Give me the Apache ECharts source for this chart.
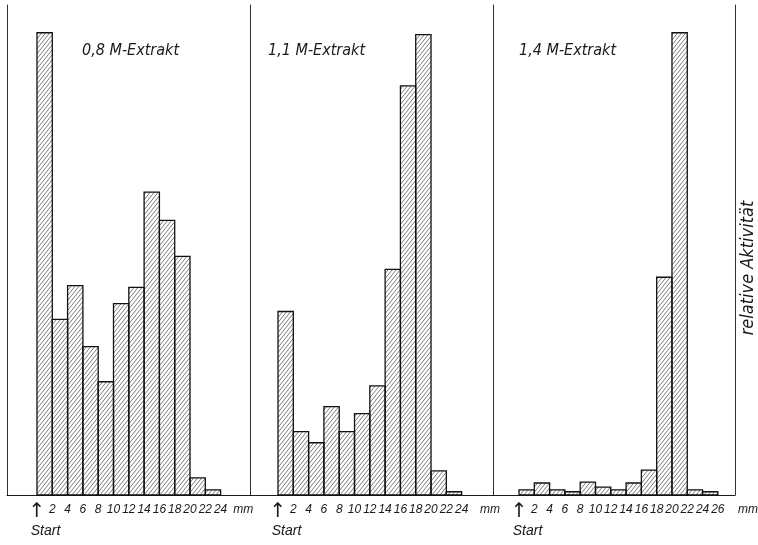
<!DOCTYPE html>
<html>
<head>
<meta charset="utf-8">
<script src="https://cdn.jsdelivr.net/npm/echarts@6/dist/echarts.min.js"></script>
<style>html,body{margin:0;padding:0;background:#fff}#c{width:758px;height:545px}</style>
</head>
<body>
<div id="c"></div>
<script>
// ---- data (relative activity, tallest bar = 100), bins of 2 mm from Start ----
const binWidthMm = 2;
const titles = ['0,8 M-Extrakt', '1,1 M-Extrakt', '1,4 M-Extrakt'];
const values08 = [100, 38, 45.3, 32.1, 24.5, 41.4, 44.9, 65.5, 59.4, 51.6, 3.7, 1.1];
const values11 = [39.7, 13.7, 11.3, 19.1, 13.7, 17.6, 23.6, 48.8, 88.5, 99.6, 5.2, 0.7];
const values14 = [1.1, 2.6, 1.1, 0.7, 2.8, 1.7, 1.1, 2.6, 5.4, 47.1, 100, 1.1, 0.7];
const ticks08 = [2, 4, 6, 8, 10, 12, 14, 16, 18, 20, 22, 24];
const ticks11 = [2, 4, 6, 8, 10, 12, 14, 16, 18, 20, 22, 24];
const ticks14 = [2, 4, 6, 8, 10, 12, 14, 16, 18, 20, 22, 24, 26];
const unitLabel = 'mm';
const startLabel = 'Start';
const yName = 'relative Aktivität';

const FONT = "'Liberation Sans', sans-serif";
const TFONT = "'DejaVu Sans Condensed', 'DejaVu Sans', sans-serif";
const INK = '#1a1a1a';

// hatch pattern
function makeHatch() {
  const w = 4, h = 5;
  const c = document.createElement('canvas');
  c.width = w; c.height = h;
  const g = c.getContext('2d');
  g.strokeStyle = '#444';
  g.lineWidth = 0.7;
  g.beginPath();
  g.moveTo(-w, 2 * h); g.lineTo(2 * w, -h);
  g.moveTo(-2 * w, 2 * h); g.lineTo(w, -h);
  g.moveTo(0, 2 * h); g.lineTo(3 * w, -h);
  g.stroke();
  return { image: c, repeat: 'repeat' };
}
const hatch = makeHatch();

const panels = [
  { vals: values08, ticks: ticks08, mmGap: -25, left: 7, width: 243, min: -3.92, max: 27.84 },
  { vals: values11, ticks: ticks11, mmGap: -13, left: 250, width: 243, min: -3.66, max: 28.1 },
  { vals: values14, ticks: ticks14, mmGap: 3, left: 493, width: 242, min: -3.40, max: 28.24 }
];

const labelStyle = { color: INK, fontFamily: FONT, fontStyle: 'italic', fontSize: 12 };
const grids = [], xAxes = [], yAxes = [], series = [];
panels.forEach((p, i) => {
  grids.push({ left: p.left, width: p.width, top: 5, bottom: 50, containLabel: false, outerBoundsMode: 'none' });
  xAxes.push({
    type: 'value', gridIndex: i, min: p.min, max: p.max, position: 'bottom', offset: 0,
    name: unitLabel, nameLocation: 'end', nameGap: p.mmGap,
    nameTextStyle: { color: INK, fontFamily: FONT, fontStyle: 'italic', fontSize: 12,
      align: 'left', verticalAlign: 'top', padding: [9, 0, 0, 0] },
    axisLine: { show: true, onZero: false, lineStyle: { color: INK, width: 1 } },
    axisTick: { show: false },
    splitLine: { show: false },
    axisLabel: Object.assign({
      customValues: p.ticks, margin: 9, hideOverlap: false,
      showMinLabel: true, showMaxLabel: true
    }, labelStyle)
  });
  // second axis on the same grid only for the Start marker
  xAxes.push({
    type: 'value', gridIndex: i, min: p.min, max: p.max, position: 'bottom', offset: 0,
    axisLine: { show: false }, axisTick: { show: false }, splitLine: { show: false },
    axisLabel: {
      customValues: [0], margin: 5, hideOverlap: false, showMinLabel: true, showMaxLabel: true,
      formatter: () => '{a|↑}\n{s|' + startLabel + '}',
      rich: {
        a: { fontFamily: 'DejaVu Sans', fontSize: 20, color: INK, lineHeight: 24, align: 'center' },
        s: { fontFamily: FONT, fontStyle: 'italic', fontSize: 14, color: INK, lineHeight: 14, padding: [0, 0, 0, 17] }
      }
    }
  });
  yAxes.push({
    type: 'value', gridIndex: i, min: 0, max: 106, position: 'left',
    axisLine: { show: true, onZero: false, lineStyle: { color: '#333', width: 1 } },
    axisTick: { show: false }, axisLabel: { show: false }, splitLine: { show: false }
  });
  const data = p.vals.map((v, k) => [k * binWidthMm, (k + 1) * binWidthMm, v]);
  series.push({
    type: 'custom', xAxisIndex: 2 * i, yAxisIndex: i, data: data,
    encode: { x: [0, 1], y: 2 },
    renderItem: (params, api) => {
      const a = api.coord([api.value(0), api.value(2)]);
      const b = api.coord([api.value(1), 0]);
      return {
        type: 'rect',
        shape: { x: a[0], y: a[1], width: b[0] - a[0], height: b[1] - a[1] },
        style: { fill: hatch, stroke: '#111', lineWidth: 1.3 }
      };
    },
    z: 3
  });
});
// right boundary line + y name
yAxes.push({
  type: 'value', gridIndex: 2, min: 0, max: 106, position: 'right',
  name: yName, nameLocation: 'middle', nameRotate: 90, nameGap: 4,
  nameTextStyle: { fontFamily: TFONT, fontStyle: 'italic', fontSize: 18, color: INK, padding: [0, 36, 0, 0] },
  axisLine: { show: true, onZero: false, lineStyle: { color: '#333', width: 1 } },
  axisTick: { show: false }, axisLabel: { show: false }, splitLine: { show: false }
});

const titleLeft = [82, 268, 519];
const chart = echarts.init(document.getElementById('c'), null, { renderer: 'canvas' });
chart.setOption({
  animation: false,
  backgroundColor: '#fff',
  title: titles.map((t, i) => ({
    text: t, left: titleLeft[i], top: 43, padding: 0,
    textStyle: { fontFamily: TFONT, fontStyle: 'italic', fontWeight: 'normal', fontSize: 16, color: INK }
  })),
  grid: grids, xAxis: xAxes, yAxis: yAxes, series: series
});
</script>
</body>
</html>
